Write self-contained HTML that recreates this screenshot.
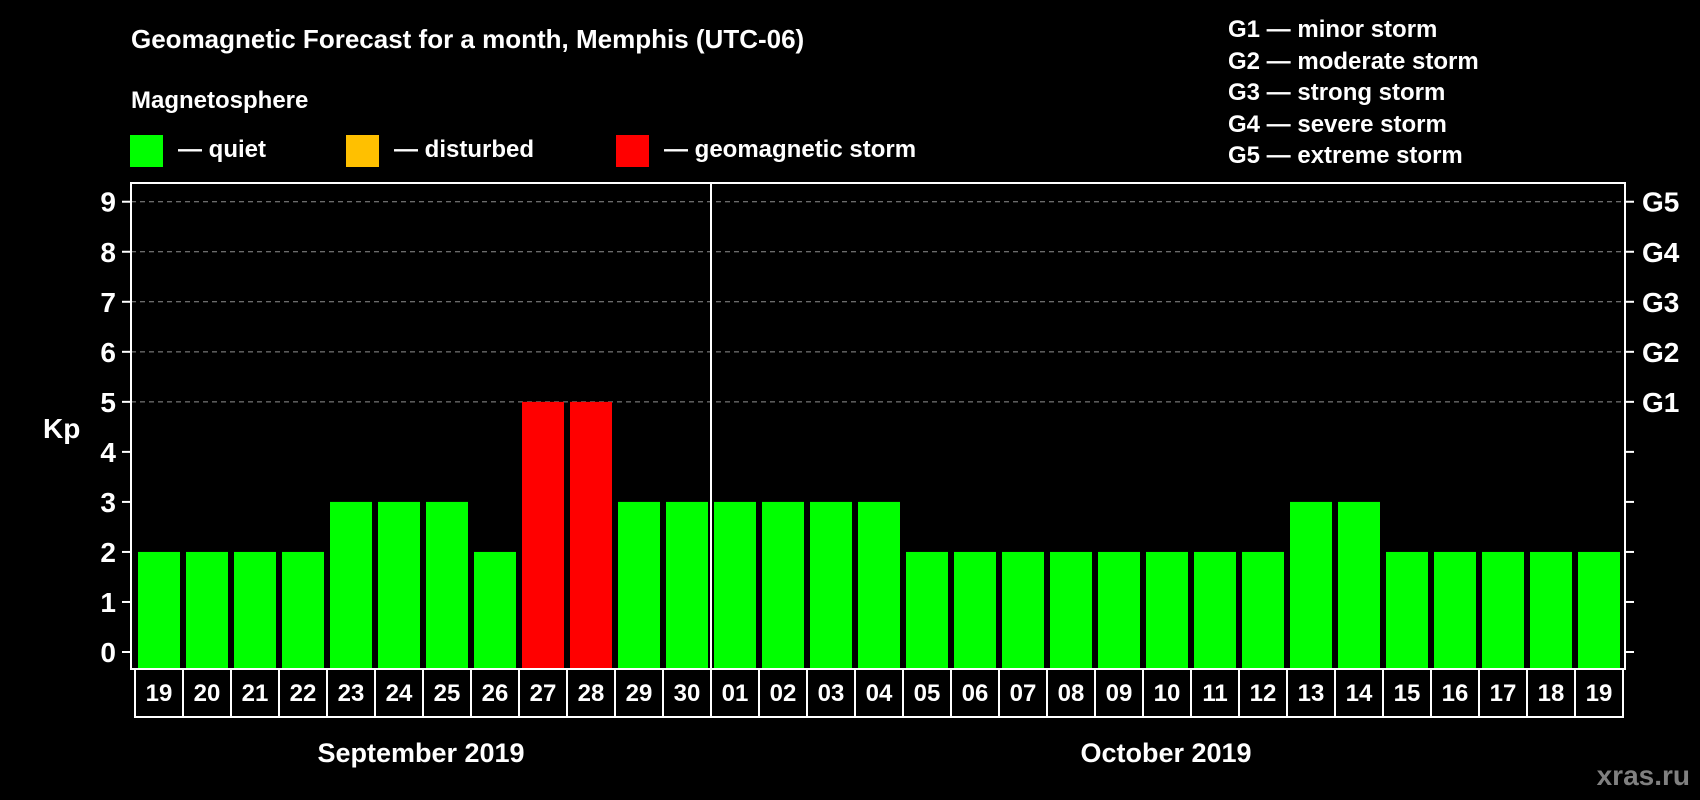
<!DOCTYPE html>
<html><head><meta charset="utf-8"><style>
html,body{margin:0;padding:0;background:#000;}
svg{display:block;font-family:"Liberation Sans",Arial,sans-serif;font-weight:bold;}
</style></head><body>
<svg id="chart" width="1700" height="800" viewBox="0 0 1700 800">
<rect width="1700" height="800" fill="#000"/>
<text x="131" y="48" fill="#fff" font-size="26">Geomagnetic Forecast for a month, Memphis (UTC-06)</text>
<text x="131" y="108" fill="#fff" font-size="24">Magnetosphere</text>
<g>
<rect x="130" y="135" width="33" height="32" fill="#00ff00"/>
<text x="178" y="157" fill="#fff" font-size="24">— quiet</text>
<rect x="346" y="135" width="33" height="32" fill="#ffc000"/>
<text x="394" y="157" fill="#fff" font-size="24">— disturbed</text>
<rect x="616" y="135" width="33" height="32" fill="#ff0000"/>
<text x="664" y="157" fill="#fff" font-size="24">— geomagnetic storm</text>
</g>
<g font-size="24" fill="#fff">
<text x="1228" y="37">G1 — minor storm</text>
<text x="1228" y="69">G2 — moderate storm</text>
<text x="1228" y="100">G3 — strong storm</text>
<text x="1228" y="132">G4 — severe storm</text>
<text x="1228" y="163">G5 — extreme storm</text>
</g>
<text x="43" y="438" fill="#fff" font-size="28">Kp</text>
<g id="grid"></g>
<g id="bars"></g>
<g id="axes"></g>
<text x="421" y="762" fill="#fff" font-size="27" text-anchor="middle">September 2019</text>
<text x="1166" y="762" fill="#fff" font-size="27" text-anchor="middle">October 2019</text>
<text x="1690" y="785" fill="#808080" font-size="28" text-anchor="end">xras.ru</text>
</svg>
<script>
const days = ["19","20","21","22","23","24","25","26","27","28","29","30","01","02","03","04","05","06","07","08","09","10","11","12","13","14","15","16","17","18","19"];
const kpValues = [2,2,2,2,3,3,3,2,5,5,3,3,3,3,3,3,2,2,2,2,2,2,2,2,3,3,2,2,2,2,2];
const yTicks = [0,1,2,3,4,5,6,7,8,9];
const gLabels = ["G1","G2","G3","G4","G5"];
const monthSplit = 12;

const NS = "http://www.w3.org/2000/svg";
const L = 131, R = 1625, T = 183, B = 669;
const cellX0 = 135, cellW = 48, barW = 42;
function y(v){ return 652 - v * 50.03; }
function x(i){ return cellX0 + i * cellW; }
function mk(tag, attrs, parent){ const e = document.createElementNS(NS, tag); for (const k in attrs) e.setAttribute(k, attrs[k]); parent.appendChild(e); return e; }

const grid = document.getElementById('grid');
const bars = document.getElementById('bars');
const axes = document.getElementById('axes');

yTicks.forEach(v => {
  if (v >= 5) {
    const gl = mk('line', {x1: L, x2: R, y1: y(v), y2: y(v), stroke: '#909090', 'stroke-width': 1, 'stroke-dasharray': '5,4'}, grid);
    
    
  }
  const tl = mk('line', {x1: 122, x2: L, y1: y(v), y2: y(v), stroke: '#fff', 'stroke-width': 2}, axes);
  
  
  const tr = mk('line', {x1: R, x2: 1634, y1: y(v), y2: y(v), stroke: '#fff', 'stroke-width': 2}, axes);
  
  
  const lab = mk('text', {x: 116, y: y(v) + 10, fill: '#fff', 'font-size': 28, 'text-anchor': 'end'}, axes);
  lab.textContent = v;
  
  
});
gLabels.forEach((g, k) => {
  const t = mk('text', {x: 1642, y: y(5 + k) + 10, fill: '#fff', 'font-size': 28}, axes);
  t.textContent = g;
  
  
});

kpValues.forEach((v, i) => {
  const color = v >= 5 ? '#ff0000' : (v >= 4 ? '#ffc000' : '#00ff00');
  const b = mk('rect', {x: x(i) + 3, y: y(v), width: barW, height: y(0) - y(v) + 16, fill: color}, bars);
  
  
  const c = mk('rect', {x: x(i), y: B, width: cellW, height: 48, fill: 'none', stroke: '#fff', 'stroke-width': 2}, axes);
  
  
  const t = mk('text', {x: x(i) + cellW / 2, y: 701, fill: '#fff', 'font-size': 24, 'text-anchor': 'middle'}, axes);
  t.textContent = days[i];
  
  
});

const frame = mk('rect', {x: L, y: T, width: R - L, height: B - T, fill: 'none', stroke: '#fff', 'stroke-width': 2}, axes);


const div = mk('line', {x1: x(monthSplit), x2: x(monthSplit), y1: T, y2: B, stroke: '#fff', 'stroke-width': 2}, axes);


</script>
</body></html>
